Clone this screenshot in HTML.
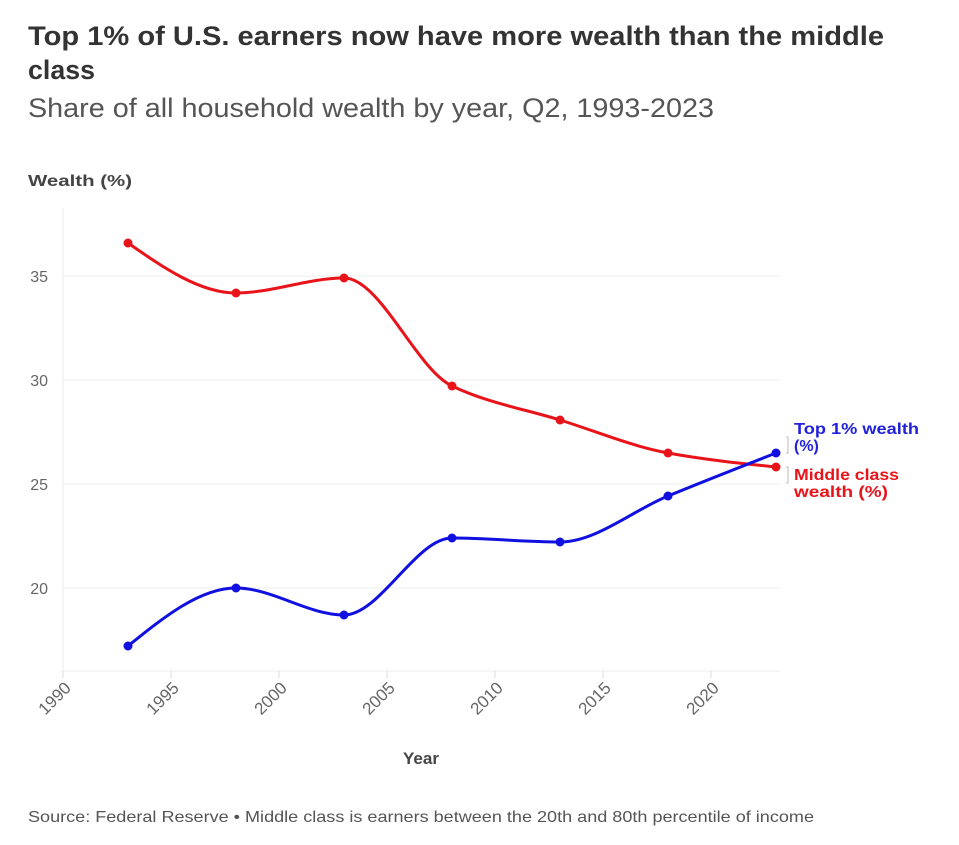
<!DOCTYPE html>
<html><head><meta charset="utf-8"><style>
body{margin:0;background:#fff;width:959px;height:840px;overflow:hidden;font-family:"Liberation Sans",sans-serif}
</style></head><body>
<svg width="959" height="840" xmlns="http://www.w3.org/2000/svg" font-family="Liberation Sans, sans-serif">
<text x="28" y="45" font-size="27" font-weight="bold" fill="#333" textLength="856" lengthAdjust="spacingAndGlyphs">Top 1% of U.S. earners now have more wealth than the middle</text>
<text x="28" y="79" font-size="27" font-weight="bold" fill="#333" textLength="67" lengthAdjust="spacingAndGlyphs">class</text>
<text x="28" y="117" font-size="27" fill="#555" textLength="686" lengthAdjust="spacingAndGlyphs">Share of all household wealth by year, Q2, 1993-2023</text>
<text x="28" y="186" font-size="16" font-weight="bold" fill="#444" textLength="104" lengthAdjust="spacingAndGlyphs">Wealth (%)</text>
<g stroke="#eee" stroke-width="1">
<line x1="63" y1="276" x2="780" y2="276"/><line x1="63" y1="380" x2="780" y2="380"/>
<line x1="63" y1="484" x2="780" y2="484"/><line x1="63" y1="588" x2="780" y2="588"/>
<line x1="63" y1="208" x2="63" y2="671"/>
<line x1="63" y1="671" x2="780" y2="671"/>
</g>
<g stroke="#ddd"><line x1="63" y1="671" x2="63" y2="678"/><line x1="171" y1="671" x2="171" y2="678"/><line x1="279" y1="671" x2="279" y2="678"/><line x1="387" y1="671" x2="387" y2="678"/><line x1="495" y1="671" x2="495" y2="678"/><line x1="603" y1="671" x2="603" y2="678"/><line x1="711" y1="671" x2="711" y2="678"/></g>
<g font-size="16" fill="#666" text-anchor="end">
<text x="48" y="282">35</text><text x="48" y="386">30</text><text x="48" y="490">25</text><text x="48" y="594">20</text>
</g>
<g font-size="17" fill="#666" text-anchor="end">
<text transform="translate(72,689) rotate(-45)">1990</text>
<text transform="translate(180,689) rotate(-45)">1995</text>
<text transform="translate(288,689) rotate(-45)">2000</text>
<text transform="translate(396,689) rotate(-45)">2005</text>
<text transform="translate(504,689) rotate(-45)">2010</text>
<text transform="translate(612,689) rotate(-45)">2015</text>
<text transform="translate(720,689) rotate(-45)">2020</text>
</g>
<text x="421" y="764" font-size="17" font-weight="bold" fill="#444" text-anchor="middle">Year</text>
<path d="M128,243 C164,268 200,293 236,293 C272,293 308,278 344,278 C380,278 416,368.8 452,386 C488,403.2 524,408.8 560,420 C596,431.2 632,446.4 668,453 C704,459.6 740,463.3 776,467" fill="none" stroke="#e8141a" stroke-width="3"/>
<path d="M128,646 C164,617 200,588 236,588 C272,588 308,615 344,615 C380,615 416,538 452,538 C488,538 524,542 560,542 C596,542 632,510.8 668,496 C704,481.2 740,467.1 776,453" fill="none" stroke="#1010e0" stroke-width="3"/>
<g fill="#e8141a"><circle cx="128" cy="243" r="4.5"/><circle cx="236" cy="293" r="4.5"/><circle cx="344" cy="278" r="4.5"/><circle cx="452" cy="386" r="4.5"/><circle cx="560" cy="420" r="4.5"/><circle cx="668" cy="453" r="4.5"/><circle cx="776" cy="467" r="4.5"/></g>
<g fill="#1010e0"><circle cx="128" cy="646" r="4.5"/><circle cx="236" cy="588" r="4.5"/><circle cx="344" cy="615" r="4.5"/><circle cx="452" cy="538" r="4.5"/><circle cx="560" cy="542" r="4.5"/><circle cx="668" cy="496" r="4.5"/><circle cx="776" cy="453" r="4.5"/></g>
<path d="M786,437 h2 v16 h-2 M786,467 h2 v16 h-2" fill="none" stroke="#bbb" stroke-width="1"/>
<g font-size="16" font-weight="bold">
<text x="794" y="434" fill="#2222dd" textLength="125" lengthAdjust="spacingAndGlyphs">Top 1% wealth</text><text x="794" y="451" fill="#2222dd">(%)</text>
<text x="794" y="480" fill="#e8141a" textLength="105" lengthAdjust="spacingAndGlyphs">Middle class</text><text x="794" y="497" fill="#e8141a" textLength="94" lengthAdjust="spacingAndGlyphs">wealth (%)</text>
</g>
<text x="28" y="822" font-size="16" fill="#555" textLength="786" lengthAdjust="spacingAndGlyphs">Source: Federal Reserve • Middle class is earners between the 20th and 80th percentile of income</text>
</svg>
</body></html>
